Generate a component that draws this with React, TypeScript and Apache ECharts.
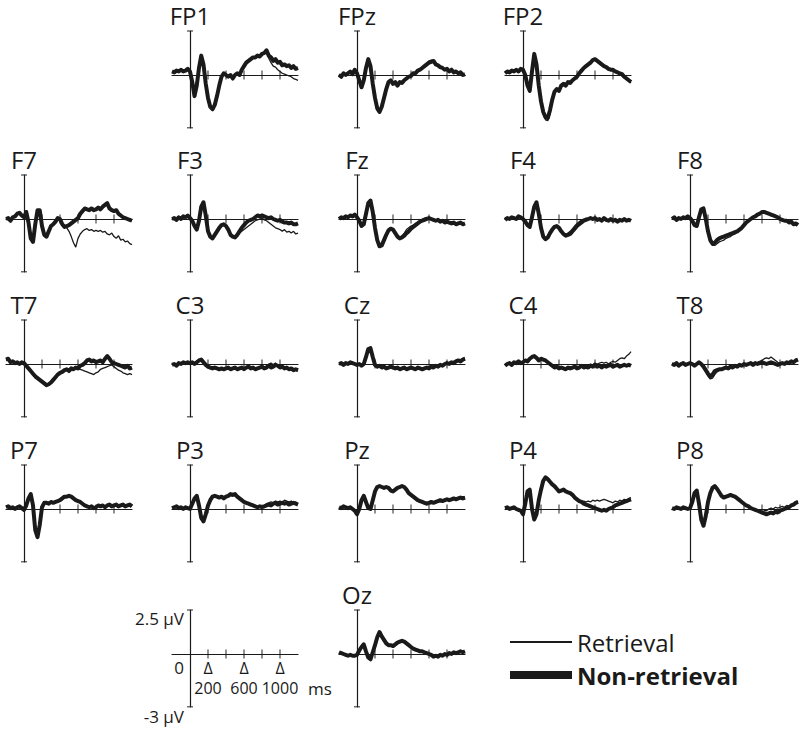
import React, { useEffect, useRef } from "react";
import * as echarts from "echarts";

// ---------- data ----------
const TIMES = [
  -200, -175, -150, -125, -100, -75, -50, -25,
  0, 25, 50, 75, 100, 125, 150, 175,
  200, 225, 250, 275, 300, 325, 350, 375,
  400, 425, 450, 475, 500, 525, 550, 575,
  600, 625, 650, 675, 700, 725, 750, 775,
  800, 825, 850, 875, 900, 925, 950, 975,
  1000, 1025, 1050, 1075, 1100, 1125, 1150, 1175,
  1200,
];
const X_TICKS = [200, 400, 600, 800, 1000];
const SCALE_X_LABELS = [200, 600, 1000];
const SCALE_Y_LABELS = [2.5, 0, -3];
const SERIES_NAMES = ["Retrieval", "Non-retrieval"];
const ELECTRODES = ["FP1", "FPz", "FP2", "F7", "F3", "Fz", "F4", "F8", "T7", "C3", "Cz", "C4", "T8", "P7", "P3", "Pz", "P4", "P8", "Oz"];

const FP1_R = [
  0.15, 0.2, 0.2, 0.25, 0.25, 0.15, 0.3, 0.3,
  0.15, -0.45, -1.15, -0.55, 0.45, 1.05, 0.55, -0.55,
  -1.35, -1.85, -1.9, -1.65, -1.15, -0.55, -0.15, 0.05,
  0.05, -0.05, -0.05, -0.15, 0.05, 0.05, 0.05, 0.25,
  0.45, 0.65, 0.75, 0.85, 0.95, 1.05, 1.05, 1.1,
  1.15, 1.2, 1.3, 0.95, 0.7, 0.5, 0.45, 0.3,
  0.2, 0.1, 0.05, 0.0, -0.05, -0.1, -0.2, -0.25,
  -0.3,
];
const FP1_NR = [
  0.2, 0.15, 0.25, 0.2, 0.3, 0.2, 0.25, 0.35,
  0.2, -0.4, -1.2, -0.6, 0.4, 1.1, 0.6, -0.5,
  -1.3, -1.8, -1.95, -1.7, -1.2, -0.6, -0.1, 0.1,
  0.0, -0.1, 0.0, -0.2, 0.0, 0.1, 0.0, 0.3,
  0.5, 0.7, 0.8, 0.9, 1.0, 1.0, 1.1, 1.05,
  1.2, 1.25, 1.4, 1.1, 1.0, 0.8, 0.9, 0.7,
  0.75, 0.55, 0.6, 0.5, 0.55, 0.4, 0.5, 0.35,
  0.4,
];
const FPZ_R = [
  0.05, -0.05, 0.05, 0.05, 0.15, 0.15, 0.1, 0.25,
  0.05, -0.35, -0.75, -0.35, 0.35, 0.85, 0.45, -0.55,
  -1.35, -1.95, -2.15, -1.85, -1.35, -0.85, -0.45, -0.35,
  -0.45, -0.45, -0.55, -0.45, -0.4, -0.3, -0.25, -0.1,
  0.0, 0.05, 0.15, 0.2, 0.35, 0.45, 0.55, 0.65,
  0.8, 0.85, 0.7, 0.65, 0.5, 0.5, 0.35, 0.35,
  0.25, 0.25, 0.2, 0.2, 0.1, 0.15, 0.05, 0.05,
  -0.05,
];
const FPZ_NR = [
  0.0, -0.1, 0.1, 0.0, 0.1, 0.2, 0.05, 0.3,
  0.1, -0.3, -0.7, -0.3, 0.4, 0.9, 0.5, -0.5,
  -1.3, -1.9, -2.1, -1.8, -1.3, -0.8, -0.4, -0.3,
  -0.5, -0.4, -0.6, -0.4, -0.45, -0.3, -0.2, -0.1,
  -0.05, 0.1, 0.1, 0.25, 0.3, 0.4, 0.5, 0.6,
  0.7, 0.75, 0.8, 0.6, 0.55, 0.45, 0.4, 0.3,
  0.35, 0.2, 0.3, 0.15, 0.2, 0.1, 0.15, 0.0,
  0.05,
];
const FP2_R = [
  0.2, 0.1, 0.25, 0.15, 0.3, 0.2, 0.3, 0.25,
  0.25, -0.1, -0.7, -1.0, 0.1, 1.15, 0.5, -0.7,
  -1.6, -2.2, -2.55, -2.6, -2.2, -1.5, -1.0, -0.75,
  -0.8, -0.65, -0.45, -0.5, -0.45, -0.35, -0.25, -0.15,
  -0.05, 0.15, 0.3, 0.45, 0.55, 0.65, 0.75, 0.8,
  0.85, 0.75, 0.65, 0.55, 0.5, 0.4, 0.3, 0.25,
  0.25, 0.15, 0.1, 0.0, -0.05, -0.15, -0.25, -0.35,
  -0.45,
];
const FP2_NR = [
  0.1, 0.2, 0.15, 0.25, 0.2, 0.3, 0.2, 0.35,
  0.3, 0.0, -0.6, -0.9, 0.2, 1.2, 0.6, -0.6,
  -1.5, -2.1, -2.4, -2.45, -2.0, -1.4, -0.95, -0.8,
  -0.9, -0.6, -0.5, -0.6, -0.4, -0.45, -0.3, -0.2,
  -0.1, 0.1, 0.25, 0.4, 0.5, 0.6, 0.7, 0.85,
  0.9, 0.8, 0.7, 0.6, 0.5, 0.45, 0.35, 0.3,
  0.3, 0.2, 0.15, 0.1, 0.05, -0.1, -0.2, -0.3,
  -0.4,
];
const F7_R = [
  0.05, 0.0, -0.05, 0.05, 0.2, 0.25, 0.3, 0.15,
  0.05, 0.3, -0.25, -1.05, -1.25, -0.35, 0.45, 0.45,
  -0.45, -0.85, -0.95, -0.75, -0.45, -0.3, -0.2, 0.0,
  -0.05, -0.3, -0.45, -0.5, -0.7, -1.0, -1.35, -1.6,
  -1.1, -0.85, -0.7, -0.6, -0.55, -0.65, -0.6, -0.7,
  -0.65, -0.7, -0.65, -0.75, -0.7, -0.85, -0.9, -0.8,
  -1.0, -1.1, -0.95, -1.2, -1.15, -1.3, -1.25, -1.4,
  -1.45,
];
const F7_NR = [
  0.0, 0.05, -0.1, 0.1, 0.15, 0.3, 0.35, 0.2,
  0.1, 0.4, -0.2, -1.1, -1.3, -0.3, 0.5, 0.5,
  -0.4, -0.9, -1.0, -0.7, -0.4, -0.3, -0.15, 0.05,
  0.0, -0.3, -0.45, -0.4, -0.35, -0.25, -0.15, -0.05,
  0.05, 0.3, 0.45, 0.6, 0.55, 0.5, 0.6, 0.5,
  0.55, 0.65, 0.55, 0.7, 0.8, 0.9, 0.6, 0.5,
  0.45, 0.5, 0.3, 0.2, 0.1, 0.05, 0.0, -0.05,
  -0.1,
];
const F3_R = [
  0.05, 0.0, 0.0, 0.05, 0.05, 0.1, 0.15, 0.15,
  0.0, -0.15, -0.45, -0.55, -0.05, 0.65, 0.9, 0.15,
  -0.75, -1.05, -1.1, -0.95, -0.75, -0.55, -0.4, -0.3,
  -0.45, -0.65, -0.9, -1.0, -1.0, -0.95, -0.8, -0.7,
  -0.6, -0.5, -0.4, -0.3, -0.2, -0.1, -0.05, 0.0,
  0.05, -0.05, -0.1, -0.2, -0.3, -0.4, -0.5, -0.55,
  -0.6, -0.7, -0.6, -0.75, -0.7, -0.8, -0.7, -0.85,
  -0.8,
];
const F3_NR = [
  0.0, 0.05, -0.05, 0.1, 0.0, 0.15, 0.1, 0.2,
  0.05, -0.1, -0.4, -0.6, -0.1, 0.7, 0.95, 0.2,
  -0.7, -1.0, -1.1, -0.9, -0.7, -0.5, -0.35, -0.3,
  -0.4, -0.6, -0.9, -1.0, -1.05, -0.9, -0.7, -0.5,
  -0.35, -0.2, -0.1, -0.05, 0.0, 0.1, 0.2, 0.15,
  0.2, 0.15, 0.1, 0.05, 0.1, 0.0, -0.05, -0.1,
  -0.05, -0.15, -0.2, -0.2, -0.25, -0.2, -0.3, -0.3,
  -0.25,
];
const FZ_R = [
  0.05, 0.05, 0.1, 0.1, 0.15, 0.15, 0.2, 0.2,
  0.05, -0.15, -0.45, -0.25, 0.35, 0.85, 1.0, 0.35,
  -0.55, -1.25, -1.6, -1.5, -1.15, -0.85, -0.6, -0.5,
  -0.6, -0.8, -1.0, -1.05, -0.95, -0.8, -0.6, -0.5,
  -0.4, -0.35, -0.25, -0.2, -0.1, 0.0, 0.05, 0.1,
  0.0, -0.05, -0.1, -0.05, -0.1, -0.1, -0.15, -0.15,
  -0.2, -0.15, -0.2, -0.25, -0.25, -0.2, -0.3, -0.25,
  -0.3,
];
const FZ_NR = [
  0.0, 0.1, 0.05, 0.15, 0.1, 0.2, 0.15, 0.25,
  0.1, -0.1, -0.4, -0.3, 0.3, 0.9, 1.05, 0.4,
  -0.5, -1.2, -1.55, -1.5, -1.2, -0.9, -0.65, -0.55,
  -0.6, -0.8, -1.0, -1.1, -1.05, -0.95, -0.8, -0.7,
  -0.55, -0.45, -0.35, -0.25, -0.15, -0.1, -0.05, 0.0,
  0.05, 0.0, -0.05, -0.1, -0.05, -0.15, -0.1, -0.2,
  -0.15, -0.2, -0.25, -0.2, -0.3, -0.25, -0.2, -0.3,
  -0.25,
];
const F4_R = [
  0.0, 0.0, 0.05, 0.05, 0.1, 0.05, 0.1, 0.05,
  -0.05, -0.2, -0.4, -0.4, 0.15, 0.75, 0.9, 0.25,
  -0.55, -1.05, -1.2, -1.0, -0.75, -0.55, -0.45, -0.45,
  -0.5, -0.7, -0.85, -0.9, -0.8, -0.7, -0.55, -0.4,
  -0.25, -0.15, -0.05, 0.0, 0.05, 0.0, 0.05, -0.05,
  0.0, 0.0, -0.05, -0.05, 0.0, -0.1, -0.05, -0.05,
  -0.05, -0.1, -0.1, -0.1, -0.05, -0.05, -0.05, -0.1,
  -0.05,
];
const F4_NR = [
  -0.05, 0.05, 0.0, 0.1, 0.05, 0.0, 0.15, 0.1,
  0.0, -0.15, -0.35, -0.45, 0.1, 0.7, 0.95, 0.3,
  -0.5, -1.0, -1.15, -1.05, -0.8, -0.6, -0.45, -0.4,
  -0.5, -0.7, -0.85, -0.95, -0.9, -0.85, -0.7, -0.55,
  -0.4, -0.3, -0.2, -0.1, -0.05, 0.0, 0.05, 0.0,
  0.05, -0.05, 0.0, -0.1, 0.05, -0.05, -0.1, 0.0,
  -0.1, -0.05, -0.15, -0.05, -0.1, 0.0, -0.1, -0.05,
  -0.1,
];
const F8_R = [
  0.05, 0.05, 0.0, 0.0, 0.05, 0.05, 0.1, 0.1,
  0.0, -0.15, -0.4, -0.35, 0.15, 0.5, 0.55, -0.1,
  -0.8, -1.3, -1.5, -1.5, -1.4, -1.3, -1.25, -1.2,
  -1.1, -1.05, -1.0, -0.9, -0.85, -0.75, -0.65, -0.5,
  -0.35, -0.25, -0.1, 0.0, 0.05, 0.15, 0.2, 0.3,
  0.35, 0.45, 0.35, 0.3, 0.2, 0.2, 0.1, 0.05,
  0.05, -0.1, -0.05, -0.15, -0.15, -0.2, -0.25, -0.3,
  -0.3,
];
const F8_NR = [
  0.0, 0.1, -0.05, 0.05, 0.0, 0.1, 0.05, 0.15,
  0.05, -0.1, -0.35, -0.4, 0.1, 0.55, 0.6, 0.0,
  -0.7, -1.2, -1.4, -1.35, -1.2, -1.1, -1.05, -1.0,
  -0.95, -0.9, -0.85, -0.8, -0.75, -0.7, -0.6, -0.5,
  -0.35, -0.2, -0.1, 0.0, 0.1, 0.15, 0.25, 0.3,
  0.4, 0.4, 0.35, 0.3, 0.25, 0.2, 0.15, 0.1,
  0.0, -0.05, -0.1, -0.1, -0.2, -0.15, -0.3, -0.25,
  -0.35,
];
const T7_R = [
  0.2, 0.25, 0.15, 0.1, 0.1, 0.05, 0.05, 0.05,
  0.0, -0.15, -0.3, -0.45, -0.6, -0.75, -0.85, -0.95,
  -1.05, -1.15, -1.15, -1.1, -1.0, -0.85, -0.7, -0.55,
  -0.45, -0.4, -0.4, -0.35, -0.35, -0.3, -0.25, -0.25,
  -0.3, -0.3, -0.35, -0.4, -0.45, -0.5, -0.55, -0.6,
  -0.5, -0.45, -0.3, -0.25, -0.2, -0.15, -0.1, -0.05,
  -0.15, -0.25, -0.35, -0.4, -0.5, -0.55, -0.6, -0.55,
  -0.6,
];
const T7_NR = [
  0.25, 0.3, 0.1, 0.15, 0.05, 0.1, 0.0, 0.1,
  0.05, -0.1, -0.25, -0.4, -0.55, -0.7, -0.8, -0.9,
  -1.0, -1.1, -1.2, -1.15, -1.05, -0.9, -0.75, -0.6,
  -0.5, -0.45, -0.35, -0.3, -0.4, -0.25, -0.3, -0.2,
  -0.25, -0.1, -0.05, 0.05, 0.2, 0.25, 0.15, 0.2,
  0.1, 0.15, 0.2, 0.1, 0.3, 0.45, 0.3, 0.1,
  0.05, 0.0, -0.05, -0.1, -0.15, -0.2, -0.1, -0.25,
  -0.2,
];
const C3_R = [
  0.0, -0.05, -0.05, 0.0, 0.05, 0.05, 0.1, 0.05,
  0.1, 0.05, 0.05, 0.15, 0.25, 0.2, 0.05, -0.1,
  -0.2, -0.25, -0.2, -0.25, -0.3, -0.25, -0.3, -0.25,
  -0.3, -0.25, -0.25, -0.3, -0.25, -0.25, -0.3, -0.25,
  -0.25, -0.25, -0.2, -0.2, -0.25, -0.25, -0.2, -0.25,
  -0.1, -0.2, -0.1, 0.0, 0.05, -0.05, 0.05, -0.15,
  -0.25, -0.2, -0.3, -0.25, -0.35, -0.3, -0.4, -0.35,
  -0.4,
];
const C3_NR = [
  -0.05, 0.0, -0.1, 0.05, 0.0, 0.1, 0.05, 0.1,
  0.05, 0.1, 0.0, 0.1, 0.2, 0.25, 0.1, -0.05,
  -0.15, -0.2, -0.25, -0.2, -0.25, -0.3, -0.25, -0.3,
  -0.25, -0.2, -0.3, -0.25, -0.2, -0.3, -0.25, -0.2,
  -0.3, -0.2, -0.15, -0.25, -0.2, -0.3, -0.25, -0.2,
  -0.15, -0.25, -0.2, -0.1, -0.2, -0.15, -0.05, -0.1,
  -0.2, -0.15, -0.25, -0.2, -0.3, -0.25, -0.35, -0.3,
  -0.35,
];
const CZ_R = [
  0.05, 0.0, 0.0, 0.0, 0.05, 0.05, 0.0, 0.05,
  0.0, -0.05, -0.05, 0.05, 0.35, 0.8, 0.85, 0.35,
  -0.1, -0.2, -0.15, -0.15, -0.2, -0.2, -0.25, -0.2,
  -0.25, -0.2, -0.25, -0.25, -0.3, -0.25, -0.25, -0.3,
  -0.25, -0.2, -0.25, -0.25, -0.3, -0.25, -0.2, -0.25,
  -0.2, -0.2, -0.15, -0.15, -0.1, -0.1, -0.05, 0.05,
  0.0, 0.1, 0.05, 0.15, 0.2, 0.25, 0.2, 0.3,
  0.35,
];
const CZ_NR = [
  0.0, 0.05, -0.05, 0.05, 0.0, 0.1, 0.05, 0.0,
  -0.05, 0.0, -0.1, 0.0, 0.4, 0.85, 0.9, 0.4,
  -0.05, -0.15, -0.1, -0.2, -0.15, -0.25, -0.2, -0.15,
  -0.2, -0.25, -0.2, -0.3, -0.25, -0.2, -0.3, -0.25,
  -0.2, -0.25, -0.3, -0.2, -0.25, -0.3, -0.25, -0.2,
  -0.25, -0.15, -0.2, -0.1, -0.15, -0.05, -0.1, 0.0,
  0.05, 0.0, 0.1, 0.05, 0.15, 0.2, 0.15, 0.25,
  0.3,
];
const C4_R = [
  -0.05, 0.05, 0.0, 0.0, 0.05, 0.1, 0.1, 0.1,
  0.05, 0.15, 0.2, 0.25, 0.35, 0.4, 0.3, 0.25,
  0.25, 0.3, 0.15, 0.05, -0.05, -0.15, -0.15, -0.2,
  -0.2, -0.25, -0.2, -0.25, -0.25, -0.2, -0.15, -0.2,
  -0.2, -0.15, -0.05, -0.1, -0.05, -0.1, 0.0, -0.05,
  0.05, 0.0, 0.05, 0.1, 0.05, 0.1, 0.0, 0.1,
  0.15, 0.1, 0.2, 0.3, 0.35, 0.3, 0.45, 0.55,
  0.7,
];
const C4_NR = [
  -0.1, 0.0, 0.05, -0.05, 0.1, 0.05, 0.15, 0.05,
  0.1, 0.2, 0.15, 0.3, 0.4, 0.45, 0.35, 0.2,
  0.3, 0.25, 0.2, 0.1, 0.0, -0.1, -0.2, -0.15,
  -0.25, -0.2, -0.25, -0.3, -0.2, -0.25, -0.2, -0.15,
  -0.25, -0.2, -0.1, -0.2, -0.15, -0.2, -0.1, -0.15,
  -0.05, -0.15, -0.1, -0.2, -0.1, -0.15, -0.1, -0.05,
  -0.15, -0.1, -0.05, -0.15, -0.1, -0.05, -0.1, -0.05,
  -0.1,
];
const T8_R = [
  0.05, 0.0, 0.0, -0.05, -0.05, 0.0, 0.0, 0.05,
  0.0, -0.05, -0.05, 0.05, 0.05, -0.05, -0.2, -0.45,
  -0.7, -0.85, -0.8, -0.6, -0.45, -0.35, -0.3, -0.25,
  -0.25, -0.2, -0.2, -0.15, -0.15, -0.1, -0.1, -0.05,
  -0.05, 0.0, 0.05, 0.0, 0.05, 0.0, 0.1, 0.15,
  0.2, 0.3, 0.35, 0.3, 0.4, 0.3, 0.2, 0.1,
  0.05, 0.0, 0.05, 0.05, 0.1, 0.1, 0.15, 0.15,
  0.2,
];
const T8_NR = [
  0.0, -0.05, 0.05, -0.1, 0.0, 0.05, -0.05, 0.0,
  0.05, 0.0, -0.1, 0.0, 0.1, 0.0, -0.15, -0.35,
  -0.55, -0.7, -0.6, -0.4, -0.35, -0.3, -0.3, -0.25,
  -0.2, -0.25, -0.15, -0.2, -0.1, -0.15, -0.05, -0.1,
  0.0, -0.05, 0.0, 0.05, -0.05, 0.05, 0.0, 0.05,
  0.1, 0.05, 0.0, 0.05, 0.1, 0.05, 0.0, -0.05,
  0.0, 0.05, 0.0, 0.1, 0.05, 0.15, 0.1, 0.2,
  0.25,
];
const P7_R = [
  0.15, 0.1, 0.1, 0.05, 0.05, 0.15, 0.1, 0.0,
  0.0, 0.25, 0.55, 0.8, 0.15, -1.15, -1.55, -0.85,
  0.05, 0.3, 0.4, 0.35, 0.35, 0.4, 0.45, 0.4,
  0.55, 0.6, 0.65, 0.75, 0.7, 0.65, 0.55, 0.5,
  0.4, 0.35, 0.25, 0.2, 0.1, 0.15, 0.1, 0.1,
  0.15, 0.15, 0.2, 0.15, 0.15, 0.25, 0.2, 0.2,
  0.15, 0.2, 0.2, 0.25, 0.2, 0.2, 0.25, 0.2,
  0.2,
];
const P7_NR = [
  0.1, 0.15, 0.05, 0.1, 0.0, 0.1, 0.15, 0.05,
  -0.05, 0.2, 0.6, 0.85, 0.2, -1.2, -1.6, -0.9,
  0.1, 0.35, 0.35, 0.3, 0.4, 0.35, 0.4, 0.45,
  0.5, 0.6, 0.7, 0.7, 0.75, 0.7, 0.6, 0.5,
  0.45, 0.4, 0.3, 0.2, 0.15, 0.1, 0.15, 0.05,
  0.1, 0.2, 0.15, 0.2, 0.1, 0.2, 0.25, 0.15,
  0.2, 0.25, 0.15, 0.2, 0.25, 0.15, 0.2, 0.25,
  0.15,
];
const P3_R = [
  0.1, 0.05, 0.1, 0.1, 0.05, 0.05, 0.05, 0.1,
  0.05, 0.25, 0.55, 0.7, 0.15, -0.45, -0.65, -0.25,
  0.25, 0.55, 0.65, 0.7, 0.75, 0.7, 0.65, 0.65,
  0.65, 0.8, 0.8, 0.85, 0.8, 0.75, 0.65, 0.55,
  0.45, 0.4, 0.3, 0.3, 0.25, 0.2, 0.15, 0.1,
  0.1, 0.2, 0.3, 0.35, 0.4, 0.35, 0.45, 0.4,
  0.45, 0.4, 0.5, 0.45, 0.4, 0.45, 0.35, 0.4,
  0.3,
];
const P3_NR = [
  0.05, 0.1, 0.15, 0.05, 0.1, 0.0, 0.1, 0.05,
  0.0, 0.3, 0.6, 0.75, 0.2, -0.5, -0.7, -0.3,
  0.2, 0.5, 0.7, 0.75, 0.7, 0.65, 0.7, 0.6,
  0.7, 0.75, 0.85, 0.8, 0.85, 0.7, 0.6, 0.5,
  0.4, 0.35, 0.3, 0.25, 0.2, 0.15, 0.1, 0.15,
  0.1, 0.15, 0.2, 0.25, 0.2, 0.3, 0.35, 0.25,
  0.3, 0.35, 0.3, 0.35, 0.25, 0.3, 0.35, 0.3,
  0.25,
];
const PZ_R = [
  0.05, 0.1, 0.1, 0.05, 0.1, 0.05, 0.05, -0.05,
  -0.25, 0.05, 0.45, 0.7, 0.35, 0.1, 0.05, 0.55,
  1.05, 1.2, 1.25, 1.3, 1.15, 1.2, 1.15, 1.0,
  1.05, 1.15, 1.15, 1.2, 1.25, 1.2, 1.05, 0.85,
  0.75, 0.65, 0.55, 0.45, 0.4, 0.35, 0.3, 0.25,
  0.3, 0.3, 0.35, 0.35, 0.4, 0.45, 0.5, 0.45,
  0.5, 0.55, 0.5, 0.55, 0.6, 0.55, 0.6, 0.65,
  0.7,
];
const PZ_NR = [
  0.1, 0.05, 0.15, 0.1, 0.05, 0.1, 0.0, -0.1,
  -0.3, 0.0, 0.5, 0.75, 0.4, 0.05, 0.0, 0.5,
  1.0, 1.25, 1.3, 1.25, 1.2, 1.25, 1.2, 1.05,
  1.0, 1.1, 1.2, 1.25, 1.3, 1.25, 1.1, 0.9,
  0.8, 0.7, 0.6, 0.5, 0.45, 0.4, 0.35, 0.3,
  0.35, 0.4, 0.35, 0.4, 0.45, 0.5, 0.45, 0.5,
  0.55, 0.5, 0.55, 0.6, 0.55, 0.6, 0.65, 0.6,
  0.65,
];
const P4_R = [
  0.0, 0.05, 0.05, 0.1, 0.05, 0.05, -0.1, -0.05,
  -0.25, 0.25, 0.95, 1.05, 0.05, -0.55, -0.25, 0.45,
  1.05, 1.55, 1.75, 1.65, 1.5, 1.4, 1.25, 1.1,
  1.05, 1.0, 1.05, 1.0, 0.9, 0.85, 0.75, 0.65,
  0.55, 0.5, 0.45, 0.45, 0.4, 0.45, 0.4, 0.5,
  0.45, 0.5, 0.45, 0.5, 0.55, 0.5, 0.45, 0.4,
  0.35, 0.45, 0.4, 0.5, 0.45, 0.55, 0.5, 0.6,
  0.65,
];
const P4_NR = [
  0.05, 0.1, 0.0, 0.05, 0.1, 0.0, -0.05, -0.1,
  -0.3, 0.3, 1.0, 1.1, 0.0, -0.6, -0.3, 0.5,
  1.1, 1.6, 1.8, 1.7, 1.55, 1.4, 1.3, 1.15,
  1.0, 1.05, 1.1, 1.0, 0.95, 0.9, 0.8, 0.65,
  0.55, 0.45, 0.4, 0.3, 0.25, 0.2, 0.15, 0.1,
  0.05, 0.0, -0.05, -0.1, -0.05, -0.1, 0.0, 0.05,
  0.1, 0.2, 0.25, 0.3, 0.35, 0.4, 0.45, 0.5,
  0.55,
];
const P8_R = [
  0.0, 0.05, 0.05, 0.1, 0.05, 0.05, 0.0, 0.05,
  0.0, 0.35, 0.85, 1.0, 0.25, -0.55, -0.9, -0.35,
  0.45, 0.95, 1.25, 1.25, 1.1, 0.9, 0.7, 0.6,
  0.65, 0.7, 0.75, 0.7, 0.65, 0.55, 0.45, 0.35,
  0.25, 0.2, 0.1, 0.05, -0.05, -0.05, -0.1, -0.1,
  -0.15, -0.1, -0.1, 0.0, 0.05, 0.0, 0.1, 0.05,
  0.1, 0.15, 0.1, 0.2, 0.15, 0.25, 0.3, 0.35,
  0.45,
];
const P8_NR = [
  0.05, 0.0, 0.1, 0.05, 0.0, 0.1, 0.05, 0.0,
  0.05, 0.4, 0.9, 1.05, 0.3, -0.6, -0.95, -0.4,
  0.4, 0.9, 1.2, 1.3, 1.15, 0.95, 0.75, 0.65,
  0.7, 0.75, 0.8, 0.75, 0.7, 0.6, 0.5, 0.4,
  0.3, 0.2, 0.15, 0.05, 0.0, -0.05, -0.1, -0.15,
  -0.2, -0.25, -0.3, -0.25, -0.2, -0.25, -0.15, -0.2,
  -0.1, -0.05, 0.0, 0.05, 0.1, 0.2, 0.25, 0.35,
  0.4,
];
const OZ_R = [
  0.05, 0.1, 0.0, 0.0, -0.05, -0.1, -0.05, -0.15,
  -0.1, 0.15, 0.45, 0.5, 0.1, -0.25, -0.25, 0.15,
  0.55, 1.0, 1.2, 0.95, 0.75, 0.6, 0.55, 0.45,
  0.5, 0.6, 0.6, 0.75, 0.7, 0.65, 0.55, 0.45,
  0.35, 0.3, 0.2, 0.2, 0.1, 0.1, 0.05, 0.0,
  -0.05, -0.1, -0.1, -0.15, -0.1, -0.1, -0.05, -0.05,
  0.0, 0.0, 0.05, 0.05, 0.1, 0.05, 0.1, 0.15,
  0.1,
];
const OZ_NR = [
  0.1, 0.05, 0.0, -0.05, -0.1, -0.05, -0.1, -0.1,
  -0.05, 0.2, 0.4, 0.55, 0.15, -0.2, -0.3, 0.1,
  0.5, 0.95, 1.25, 1.0, 0.8, 0.6, 0.5, 0.5,
  0.45, 0.55, 0.65, 0.7, 0.75, 0.7, 0.6, 0.5,
  0.4, 0.3, 0.25, 0.2, 0.15, 0.15, 0.1, 0.05,
  0.0, -0.05, -0.15, -0.1, -0.15, -0.05, -0.1, 0.0,
  -0.05, 0.05, 0.0, 0.1, 0.05, 0.1, 0.15, 0.1,
  0.15,
];

const WAVES: Record<string, [number[], number[]]> = {
  FP1: [FP1_R, FP1_NR], FPz: [FPZ_R, FPZ_NR], FP2: [FP2_R, FP2_NR],
  F7: [F7_R, F7_NR], F3: [F3_R, F3_NR], Fz: [FZ_R, FZ_NR], F4: [F4_R, F4_NR], F8: [F8_R, F8_NR],
  T7: [T7_R, T7_NR], C3: [C3_R, C3_NR], Cz: [CZ_R, CZ_NR], C4: [C4_R, C4_NR], T8: [T8_R, T8_NR],
  P7: [P7_R, P7_NR], P3: [P3_R, P3_NR], Pz: [PZ_R, PZ_NR], P4: [P4_R, P4_NR], P8: [P8_R, P8_NR],
  Oz: [OZ_R, OZ_NR],
};

// ---------- layout & style ----------
const COL_X = [24, 190, 357, 523, 690]; // pixel x of time 0 for each column
const ROW_Y = [75, 219, 364, 509, 654]; // pixel y of 0 µV for each row
const PLACE: Record<string, [number, number]> = {
  FP1: [0, 1], FPz: [0, 2], FP2: [0, 3],
  F7: [1, 0], F3: [1, 1], Fz: [1, 2], F4: [1, 3], F8: [1, 4],
  T7: [2, 0], C3: [2, 1], Cz: [2, 2], C4: [2, 3], T8: [2, 4],
  P7: [3, 0], P3: [3, 1], Pz: [3, 2], P4: [3, 3], P8: [3, 4],
  Oz: [4, 2], SCALE: [4, 1],
};
const T_MIN = -200, T_MAX = 1200, V_MIN = -3, V_MAX = 2.5;
const PX_PER_MS = 0.09;
const PX_PER_UV = 17.6;
const INK = "#1a1a1a";
const FONT = '"Open Sans", "Noto Sans", sans-serif';

function txt(x: number, y: number, text: string, size: number, align: string, vAlign: string, lineHeight?: number) {
  return {
    type: "text", x, y, silent: true,
    style: {
      text, fill: INK, font: `${size}px ${FONT}`, lineHeight: lineHeight ?? size,
      textAlign: align, align, textVerticalAlign: vAlign, verticalAlign: vAlign,
    },
  };
}

function buildOption() {
  const grid: any[] = [];
  const xAxis: any[] = [];
  const yAxis: any[] = [];
  const series: any[] = [];
  const graphic: any[] = [];
  const panels = [...ELECTRODES, "SCALE"];

  panels.forEach((key, i) => {
    const [row, col] = PLACE[key];
    const ox = COL_X[col];
    const oy = ROW_Y[row];
    const isScale = key === "SCALE";
    grid.push({
      left: ox + T_MIN * PX_PER_MS,
      top: oy - V_MAX * PX_PER_UV,
      width: (T_MAX - T_MIN) * PX_PER_MS,
      height: (V_MAX - V_MIN) * PX_PER_UV,
      containLabel: false,
    });
    const axisLine = { show: true, onZero: true, lineStyle: { color: INK, width: 1.2 } };
    xAxis.push({
      gridIndex: i, type: "value", min: T_MIN, max: T_MAX,
      axisLine, axisTick: { show: false }, splitLine: { show: false }, axisLabel: { show: false },
    });
    yAxis.push({
      gridIndex: i, type: "value", min: V_MIN, max: V_MAX,
      axisLine, axisTick: { show: false }, splitLine: { show: false }, axisLabel: { show: false },
    });
    // tick marks crossing the time axis
    series.push({
      type: "scatter", xAxisIndex: i, yAxisIndex: i, silent: true, z: 1,
      symbol: "rect", symbolSize: [1.2, 9], itemStyle: { color: INK },
      data: X_TICKS.map((t) => [t, 0]),
    });
    // end marks on the voltage axis
    series.push({
      type: "scatter", xAxisIndex: i, yAxisIndex: i, silent: true, z: 1,
      symbol: "rect", symbolSize: [6, 1.2], itemStyle: { color: INK },
      data: [[0, V_MAX], [0, V_MIN]],
    });
    if (isScale) {
      SCALE_Y_LABELS.forEach((v) => {
        const y = oy - v * PX_PER_UV;
        graphic.push(txt(ox - 6, y + (v === 0 ? 13 : v > 0 ? 8 : 10), v === 0 ? "0" : `${v} µV`, 17, "right", "middle"));
      });
      SCALE_X_LABELS.forEach((t) => {
        const x = ox + t * PX_PER_MS;
        graphic.push(txt(x, oy + 14, "Δ", 16, "center", "middle", 16));
        graphic.push(txt(x, oy + 34, String(t), 16, "center", "middle", 16));
      });
      graphic.push(txt(ox + T_MAX * PX_PER_MS + 10, oy + 34, "ms", 17, "left", "middle"));
      return;
    }
    const [rWave, nrWave] = WAVES[key];
    series.push({
      type: "line", name: SERIES_NAMES[0], xAxisIndex: i, yAxisIndex: i, silent: true, z: 3,
      symbol: "none", showSymbol: false,
      lineStyle: { color: INK, width: 1.3 }, itemStyle: { color: INK },
      data: TIMES.map((t, k) => [t, rWave[k]]),
    });
    series.push({
      type: "line", name: SERIES_NAMES[1], xAxisIndex: i, yAxisIndex: i, silent: true, z: 4,
      symbol: "none", showSymbol: false,
      lineStyle: { color: INK, width: 4, join: "round" }, itemStyle: { color: INK },
      data: TIMES.map((t, k) => [t, nrWave[k]]),
    });
    graphic.push(txt(ox, oy - 60, key, 24, "center", "middle", 22));
  });

  return {
    animation: false,
    backgroundColor: "#ffffff",
    grid, xAxis, yAxis, series, graphic,
    legend: {
      orient: "vertical", left: 510, top: 630, padding: 0,
      itemWidth: 62, itemHeight: 14, itemGap: 9,
      selectedMode: false,
      data: [
        { name: SERIES_NAMES[0], icon: "path://M0,0H62V2H0Z", itemStyle: { color: INK } },
        { name: SERIES_NAMES[1], icon: "path://M0,0H62V8H0Z", itemStyle: { color: INK } },
      ],
      formatter: (name: string) => (name === SERIES_NAMES[1] ? `{b|${name}}` : name),
      textStyle: {
        fontSize: 24, lineHeight: 24, fontFamily: FONT, color: INK,
        rich: { b: { fontSize: 24, lineHeight: 24, fontWeight: "bold", fontFamily: FONT, color: INK } },
      },
    },
  };
}

export default function App() {
  const ref = useRef<HTMLDivElement>(null);
  useEffect(() => {
    document.body.style.margin = "0";
    const chart = echarts.init(ref.current as HTMLDivElement, undefined, { renderer: "svg" });
    chart.setOption(buildOption() as any);
    return () => chart.dispose();
  }, []);
  return <div ref={ref} style={{ width: 800, height: 729 }} />;
}
